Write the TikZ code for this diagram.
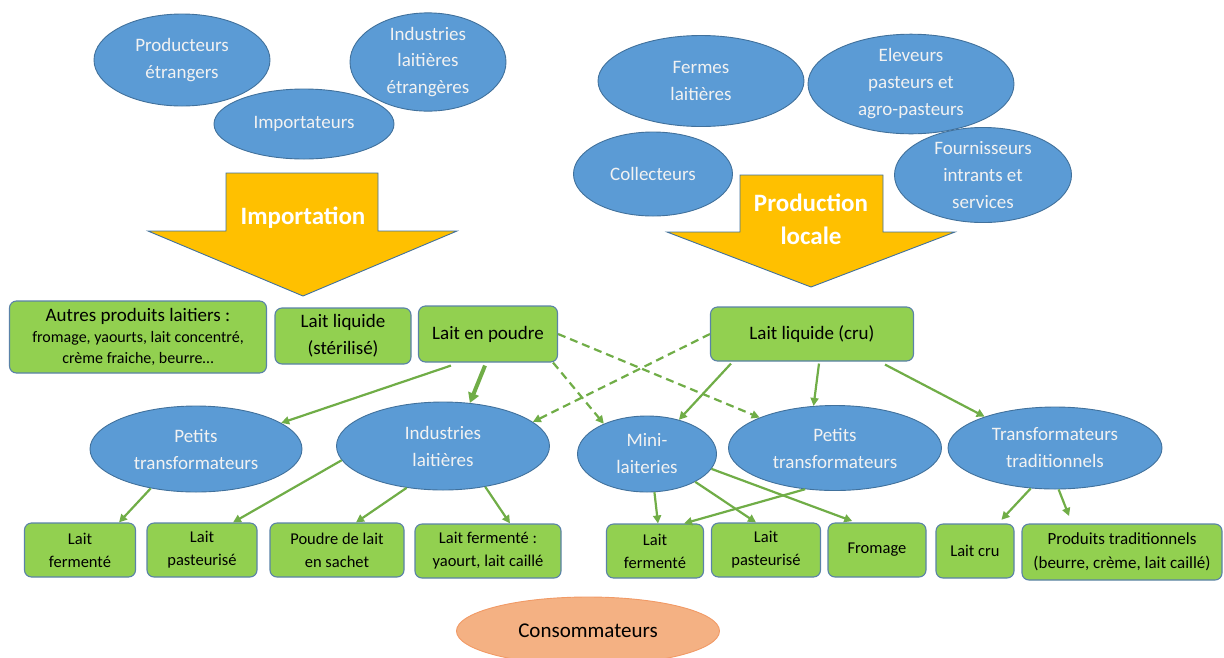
\documentclass[tikz,border=0pt]{standalone}
\usepackage{fontspec}
\setmainfont{Carlito}
\usetikzlibrary{shapes.geometric,arrows.meta}
\definecolor{ellf}{HTML}{5B9BD5}
\definecolor{ellb}{HTML}{41719C}
\definecolor{boxf}{HTML}{92D050}
\definecolor{boxb}{HTML}{5A82A8}
\definecolor{arrg}{HTML}{70AD47}
\definecolor{yel}{HTML}{FFC000}
\definecolor{conf}{HTML}{F4B183}
\definecolor{conb}{HTML}{F19A66}
\newcommand\fz[2]{\fontsize{#1}{#2}\selectfont}
\tikzset{
  ell/.style={ellipse, draw=ellb, fill=ellf, line width=0.9pt, text=white!95!black, inner sep=0pt, align=center, font=\fz{19}{27}},
  gbox/.style={rectangle, rounded corners=7pt, draw=boxb, fill=boxf, line width=1.1pt, inner sep=0pt, align=center, text=black},
  bigarrow/.style={draw=ellb, fill=yel, line width=0.9pt},
  arr/.style={draw=arrg, line width=2.2pt, -{Triangle[length=8pt,width=8pt]}},
  thickarr/.style={draw=arrg, line width=4pt, -{Triangle[length=10pt,width=11pt]}},
  darr/.style={arr, dash pattern=on 8pt off 5pt},
}
\begin{document}
\begin{tikzpicture}[x=1pt,y=-1pt]
\useasboundingbox (0,0) rectangle (1224,657);
% ---- top left ellipses
\node[ell, minimum width=176pt, minimum height=92pt] (pe) at (182,60) {Producteurs\\étrangers};
\node[ell, minimum width=156pt, minimum height=91pt, font=\fz{19}{26.5}] (ile) at (428,62) {Industries\\laitières\\étrangères};
\node[ell, minimum width=180pt, minimum height=70pt] (imp) at (304,124) {Importateurs};
% ---- top right ellipses
\node[ell, minimum width=206pt, minimum height=91pt] (fl) at (701,81) {Fermes\\laitières};
\node[ell, minimum width=206pt, minimum height=88pt, font=\fz{19}{27}] (el) at (911,84) {Eleveurs\\pasteurs et\\agro-pasteurs};
\node[ell, minimum width=159pt, minimum height=84pt] (col) at (653,174) {Collecteurs};
\node[ell, minimum width=177pt, minimum height=91pt, font=\fz{19}{27}] (fou) at (983,175) {Fournisseurs\\intrants et\\services};
% ---- big yellow arrows
\draw[bigarrow] (226,173) -- (378,173) -- (378,231) -- (457,231) -- (303,296) -- (148,231) -- (226,231) -- cycle;
\node[text=white, font=\bfseries\fz{25}{30}] (impt) at (303,218) {Importation};
\draw[bigarrow] (740,175) -- (883,175) -- (883,232) -- (955,232) -- (811,287) -- (667,232) -- (740,232) -- cycle;
\node[text=white, font=\bfseries\fz{25}{33}, align=center] (prod) at (811,219) {Production\\locale};
% ---- first row of boxes
\node[gbox, minimum width=257pt, minimum height=72pt, font=\fz{16}{21}] (apl) at (138,337)
  {\fz{19}{24}Autres produits laitiers :\\\fz{16}{21}fromage, yaourts, lait concentré,\\crème fraiche, beurre…};
\node[gbox, minimum width=136pt, minimum height=56pt, font=\fz{19}{27}] (lls) at (343,336) {Lait liquide\\(stérilisé)};
\node[gbox, minimum width=139pt, minimum height=56pt, font=\fz{19}{27}] (lep) at (488,334) {Lait en poudre};
\node[gbox, minimum width=203pt, minimum height=54pt, font=\fz{19}{27}] (llc) at (812,334) {Lait liquide (cru)};
% ---- second row ellipses
\node[ell, minimum width=212pt, minimum height=86pt] (ptl) at (196,449) {Petits\\transformateurs};
\node[ell, minimum width=213pt, minimum height=88pt] (ind) at (443,446) {Industries\\laitières};
\node[ell, minimum width=139pt, minimum height=76pt] (mini) at (647,454) {Mini-\\laiteries};
\node[ell, minimum width=213pt, minimum height=85pt] (ptr) at (835,448) {Petits\\transformateurs};
\node[ell, minimum width=214pt, minimum height=82pt] (tt) at (1055,448) {Transformateurs\\traditionnels};
% ---- third row of boxes
\tikzset{sbox/.style={gbox, minimum height=54pt, font=\fz{16.5}{23}}}
\node[sbox, minimum width=111pt] (lf1) at (80,550) {Lait\\fermenté};
\node[sbox, minimum width=110pt] (lp1) at (202,550) {Lait\\pasteurisé};
\node[sbox, minimum width=134pt] (pls) at (337,550) {Poudre de lait\\en sachet};
\node[sbox, minimum width=146pt] (lfy) at (488,551) {Lait fermenté :\\yaourt, lait caillé};
\node[sbox, minimum width=97pt] (lf2) at (655,551) {Lait\\fermenté};
\node[sbox, minimum width=109pt] (lp2) at (766,550) {Lait\\pasteurisé};
\node[sbox, minimum width=98pt] (fro) at (877,550) {Fromage};
\node[sbox, minimum width=78pt] (lcr) at (975,551) {Lait cru};
\node[sbox, minimum width=200pt, minimum height=56pt, font=\fz{17}{24}] (ptd) at (1122,552) {Produits traditionnels\\(beurre, crème, lait caillé)};
% ---- consumers
\node[ellipse, draw=conb, fill=conf, line width=0.9pt, minimum width=263pt, minimum height=68pt, inner sep=0pt, font=\fz{21}{26}] (con) at (588,631) {Consommateurs};
% ---- connectors
\draw[arr] ([xshift=-37pt,yshift=-3pt]lep.south) -- (ptl.17);
\draw[thickarr] ([xshift=-3pt,yshift=-3pt]lep.south) -- (ind.58);
\draw[arr] ([xshift=-81pt,yshift=-2pt]llc.south) -- (mini.47);
\draw[arr] ([xshift=7pt,yshift=-2pt]llc.south) -- (ptr.117);
\draw[arr] ([xshift=73pt,yshift=-3pt]llc.south) -- (tt.156);
\draw[darr] ([xshift=-5pt]lep.south east) -- (mini.145);
\draw[darr] (lep.east) -- (ptr.158);
\draw[darr] (llc.west) -- (ind.15);
\draw[arr] (ptl.221) -- ([xshift=39pt]lf1.north);
\draw[arr] (ind.188) -- ([xshift=31pt]lp1.north);
\draw[arr] (ind.229) -- ([xshift=19pt]pls.north);
\draw[arr] (ind.316) -- ([xshift=22pt]lfy.north);
\draw[arr] (mini.281) -- ([xshift=3pt]lf2.north);
\draw[arr] (mini.330) -- ([xshift=-10pt]lp2.north);
\draw[arr, shorten >=4pt] (mini.347) -- ([xshift=-21pt]fro.north);
\draw[arr] (ptr.234) -- ([xshift=29pt]lf2.north);
\draw[arr, shorten >=5pt] (tt.239) -- ([xshift=23pt]lcr.north);
\draw[arr, shorten >=8pt] (tt.275) -- ([xshift=-50pt]ptd.north);
\end{tikzpicture}
\end{document}
